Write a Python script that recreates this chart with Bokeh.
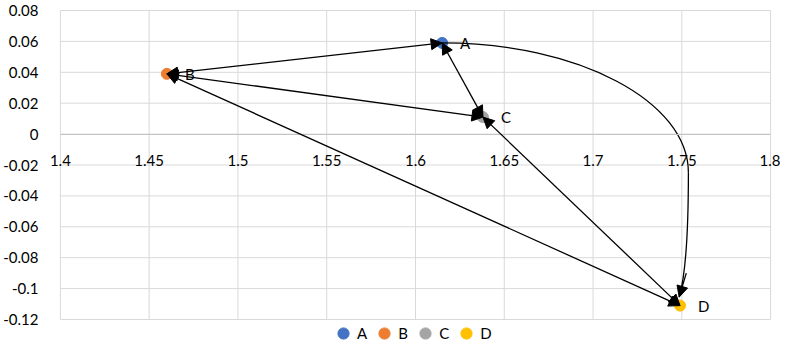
from bokeh.plotting import figure
from bokeh.models import (ColumnDataSource, Arrow, NormalHead, FixedTicker,
                          Legend, LegendItem, Range1d)
from bokeh.core.properties import value
from bokeh.embed import file_html
from bokeh.resources import INLINE

# ---- data ----
names = ["A", "B", "C", "D"]
xs = [1.615, 1.46, 1.638, 1.749]
ys = [0.059, 0.039, 0.011, -0.111]
colors = ["#4472C4", "#ED7D31", "#A5A5A5", "#FFC000"]

# straight edges (arrow heads at both ends)
edges = [("B", "A"), ("B", "C"), ("B", "D"), ("A", "C"), ("C", "D")]

# curved edge A -> D as two cubic bezier pieces (data coordinates)
curve_x0 = [1.615, 1.7537]
curve_y0 = [0.059, -0.025]
curve_cx0 = [1.6916, 1.7537]
curve_cy0 = [0.059, -0.062]
curve_cx1 = [1.7537, 1.7525]
curve_cy1 = [0.0214, -0.09]
curve_x1 = [1.7537, 1.7485]
curve_y1 = [-0.025, -0.1055]

x_ticks = [1.4, 1.45, 1.5, 1.55, 1.6, 1.65, 1.7, 1.75, 1.8]
x_tick_labels = ["1.4", "1.45", "1.5", "1.55", "1.6", "1.65", "1.7", "1.75", "1.8"]
y_ticks = [-0.12, -0.1, -0.08, -0.06, -0.04, -0.02, 0, 0.02, 0.04, 0.06, 0.08]
y_tick_labels = ["-0.12", "-0.1", "-0.08", "-0.06", "-0.04", "-0.02", "0",
                 "0.02", "0.04", "0.06", "0.08"]

FONT = "Lato"
GRID = "#d9d9d9"

XMIN, XMAX = x_ticks[0], x_ticks[-1]
YMIN, YMAX = y_ticks[0], y_ticks[-1]
# pixel scales of the frame; padding keeps end labels and legend inside it
SX = 1795.0
SY = 1545.0
x_range = Range1d(XMIN - 12 / SX, XMAX + 10 / SX)
y_range = Range1d(YMIN - 24 / SY, YMAX + 1 / SY)

p = figure(width=780, height=343, x_range=x_range, y_range=y_range,
           output_backend="svg", toolbar_location=None,
           min_border_left=40, min_border_right=0,
           min_border_top=9, min_border_bottom=0)
p.outline_line_color = None
p.background_fill_color = "white"
p.border_fill_color = "white"
p.xgrid.visible = False
p.ygrid.visible = False

# gridlines limited to the data area
p.segment(x0=x_ticks, y0=[YMIN] * len(x_ticks), x1=x_ticks, y1=[YMAX] * len(x_ticks),
          line_color=GRID, line_width=1, level="underlay")
p.segment(x0=[XMIN] * len(y_ticks), y0=y_ticks, x1=[XMAX] * len(y_ticks), y1=y_ticks,
          line_color=GRID, line_width=1, level="underlay")

# axes
p.xaxis.ticker = FixedTicker(ticks=x_ticks)
p.xaxis.major_label_overrides = {t: l for t, l in zip(x_ticks, x_tick_labels)}
p.yaxis.ticker = FixedTicker(ticks=y_ticks)
p.yaxis.major_label_overrides = {t: l for t, l in zip(y_ticks, y_tick_labels)}
p.xaxis.fixed_location = 0
p.xaxis.bounds = (XMIN, XMAX)
for ax in (p.xaxis[0], p.yaxis[0]):
    ax.major_tick_line_color = None
    ax.minor_tick_line_color = None
    ax.major_label_text_font = FONT
    ax.major_label_text_font_size = "15px"
    ax.major_label_text_color = "#000000"
p.xaxis.axis_line_color = "#c4c4c4"
p.yaxis.axis_line_color = None
p.xaxis.major_label_standoff = 15
p.yaxis.major_label_standoff = 4

# points
items = []
for n, x, y, c in zip(names, xs, ys, colors):
    r = p.scatter([x], [y], size=11, fill_color=c, line_color=c)
    items.append(LegendItem(label=n, renderers=[r]))

# straight arrows
pos = {n: (x, y) for n, x, y in zip(names, xs, ys)}
src = ColumnDataSource(dict(
    x_start=[pos[a][0] for a, b in edges], y_start=[pos[a][1] for a, b in edges],
    x_end=[pos[b][0] for a, b in edges], y_end=[pos[b][1] for a, b in edges]))
p.add_layout(Arrow(source=src, x_start="x_start", y_start="y_start",
                   x_end="x_end", y_end="y_end", line_color="black", line_width=1.3,
                   start=NormalHead(size=11, fill_color="black", line_color="black"),
                   end=NormalHead(size=11, fill_color="black", line_color="black")))

# curved arrow A -> D
p.bezier(x0=curve_x0, y0=curve_y0, x1=curve_x1, y1=curve_y1,
         cx0=curve_cx0, cy0=curve_cy0, cx1=curve_cx1, cy1=curve_cy1,
         line_color="black", line_width=1.3)
p.add_layout(Arrow(x_start=curve_cx1[-1], y_start=curve_cy1[-1],
                   x_end=curve_x1[-1], y_end=curve_y1[-1],
                   line_color="black", line_width=1.3,
                   end=NormalHead(size=11, fill_color="black", line_color="black")))

# point labels
p.text(x=xs, y=ys, text=names, x_offset=18, text_align="left",
       text_baseline="middle", text_font=value(FONT), text_font_size="15px",
       text_color="black")

legend = Legend(items=items, orientation="horizontal", location=(281, -4),
                border_line_color=None, background_fill_alpha=0,
                label_text_font=FONT, label_text_font_size="15px",
                label_text_color="black",
                glyph_width=28, glyph_height=28, spacing=3, padding=0,
                margin=0, label_standoff=0, label_width=10)
p.add_layout(legend, "center")

open("out.html", "w").write(file_html(p, INLINE))
